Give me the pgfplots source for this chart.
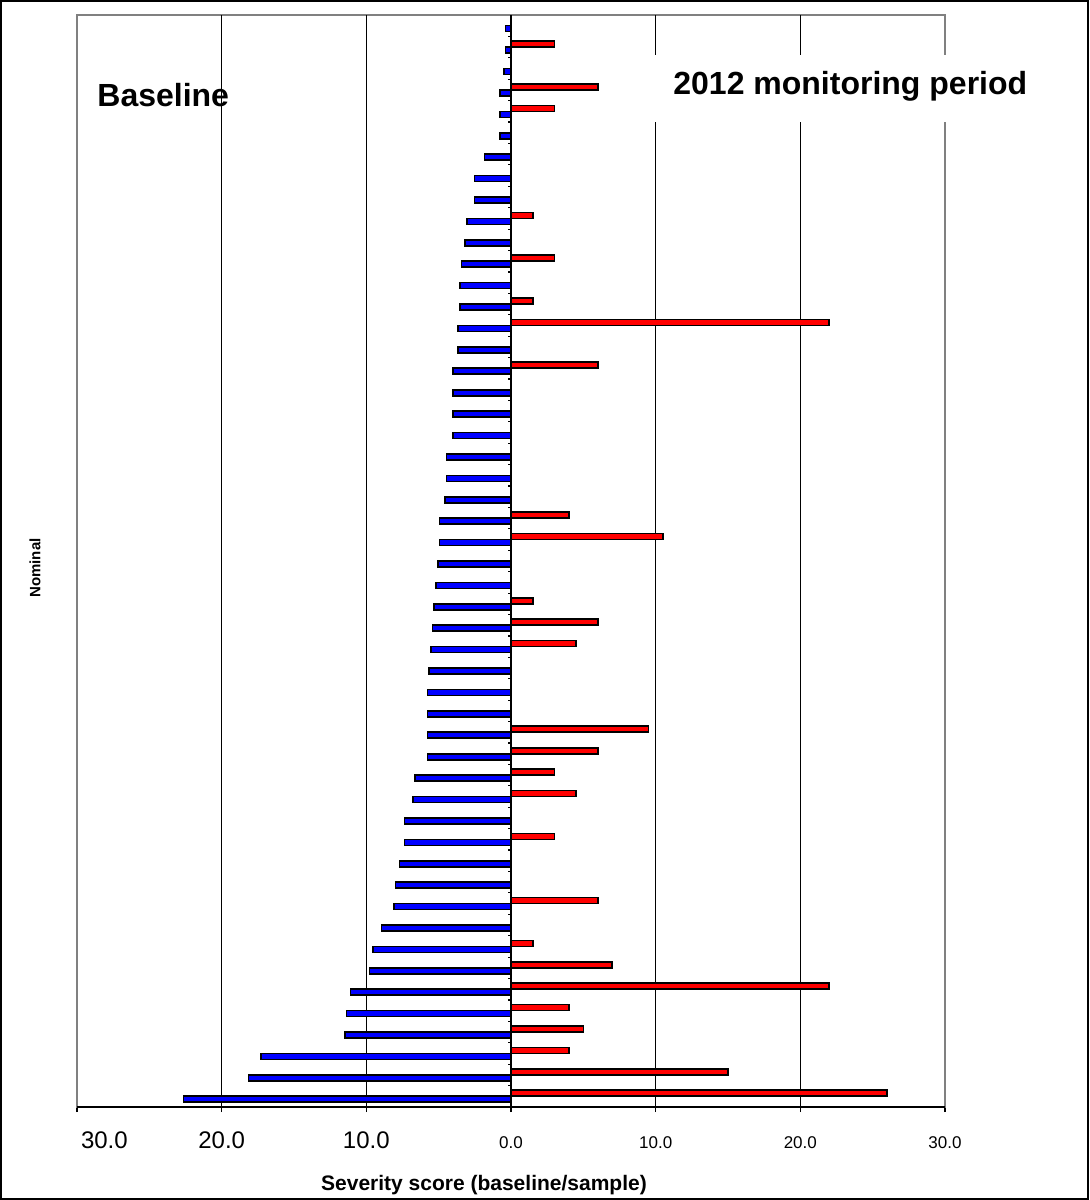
\documentclass[border=0pt]{standalone}
\usepackage{fontspec}
\setmainfont{Liberation Sans}
\usepackage{pgfplots}
\pgfplotsset{compat=1.18}
\definecolor{barblue}{RGB}{0,0,255}
\definecolor{barred}{RGB}{255,0,0}
\begin{document}
\begin{tikzpicture}
\draw[black, line width=1pt] (0.5pt,0.5pt) rectangle (544pt,599.5pt);
\begin{axis}[
  at={(38.5pt,46.5pt)}, anchor=south west,
  scale only axis, width=434pt, height=546pt,
  xmin=-30, xmax=30, ymin=0.5, ymax=51.5,
  xbar, bar width=3pt,
  axis line style={draw=gray, line width=0.7pt},
  xtick={-30,-20,-10,0,10,20,30},
  xticklabels={{\makebox[0pt][l]{\hspace*{2pt}\fontsize{12}{14}\selectfont 30.0}},
    {\fontsize{12}{14}\selectfont 20.0},{\fontsize{12}{14}\selectfont 10.0},
    {\fontsize{8.5}{10}\selectfont 0.0},{\fontsize{8.5}{10}\selectfont 10.0},
    {\fontsize{8.5}{10}\selectfont 20.0},{\fontsize{8.5}{10}\selectfont 30.0}},
  xticklabel style={anchor=base, yshift=-18pt, inner sep=0pt},
  ytick=\empty,
  xtick pos=left,
  tick align=outside,
  major tick length=2.5pt,
  xtick style={black, line width=0.6pt},
  clip=false,
]
\draw[black, line width=0.7pt] (axis cs:-20,0.5) -- (axis cs:-20,51.5);
\draw[black, line width=0.7pt] (axis cs:-10,0.5) -- (axis cs:-10,51.5);
\draw[black, line width=0.7pt] (axis cs:10,0.5) -- (axis cs:10,51.5);
\draw[black, line width=0.7pt] (axis cs:20,0.5) -- (axis cs:20,51.5);
\draw[black, line width=0.8pt] (axis cs:0,0.5) -- (axis cs:0,51.5);
\pgfplotsinvokeforeach{1,...,51}{\draw[black, line width=0.6pt] (axis cs:0,{#1-0.5}) -- ++(-1.5pt,0pt);}
\addplot[fill=barred, draw=black, line width=0.8pt, bar shift=1.5pt] coordinates {
(26,1) (15,2) (4,3) (5,4) (4,5) (22,6) (7,7) (1.5,8) (6,10) (3,13) (4.5,15) (3,16) (6,17) (9.5,18) (4.5,22) (6,23) (1.5,24) (10.5,27) (4,28) (6,35) (22,37) (1.5,38) (3,40) (1.5,42) (3,47) (6,48) (3,50)
};
\addplot[fill=barblue, draw=black, line width=0.8pt, bar shift=-1.5pt] coordinates {
(-22.65,1) (-18.15,2) (-17.27,3) (-11.49,4) (-11.37,5) (-11.1,6) (-9.79,7) (-9.56,8) (-8.94,9) (-8.1,10) (-7.98,11) (-7.7,12) (-7.36,13) (-7.36,14) (-6.76,15) (-6.65,16) (-5.77,17) (-5.77,18) (-5.77,19) (-5.77,20) (-5.68,21) (-5.54,22) (-5.42,23) (-5.31,24) (-5.17,25) (-5.06,26) (-4.94,27) (-4.94,28) (-4.57,29) (-4.47,30) (-4.47,31) (-4.0,32) (-4.0,33) (-4.0,34) (-4.0,35) (-3.65,36) (-3.65,37) (-3.54,38) (-3.54,39) (-3.42,40) (-3.17,41) (-3.05,42) (-2.53,43) (-2.53,44) (-1.84,45) (-0.74,46) (-0.74,47) (-0.74,48) (-0.5,49) (-0.37,50) (-0.37,51)
};
\draw[black, line width=0.9pt] (rel axis cs:0,0) -- (rel axis cs:1,0);
\end{axis}
\fill[white] (326pt,539pt) rectangle (523.5pt,572.5pt);
\node[anchor=base west, inner sep=0pt, font=\bfseries\fontsize{16}{19}\selectfont] at (336.5pt,552.5pt) {2012 monitoring period};
\node[anchor=base west, inner sep=0pt, font=\bfseries\fontsize{16}{19}\selectfont] at (48.5pt,546.5pt) {Baseline};
\node[anchor=base, inner sep=0pt, font=\bfseries\fontsize{10.5}{12}\selectfont] at (242pt,5pt) {Severity score (baseline/sample)};
\node[rotate=90, inner sep=0pt, font=\bfseries\fontsize{7.5}{9}\selectfont] at (17.5pt,316pt) {Nominal};
\end{tikzpicture}
\end{document}
